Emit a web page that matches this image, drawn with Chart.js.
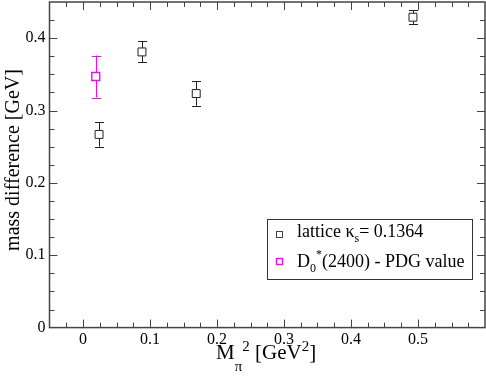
<!DOCTYPE html>
<html>
<head>
<meta charset="utf-8">
<style>
html,body{margin:0;padding:0;background:#fff;}
#wrap{width:486px;height:382px;position:relative;}
</style>
<script src="https://cdn.jsdelivr.net/npm/chart.js@4/dist/chart.umd.min.js"></script>
</head>
<body>
<div id="wrap"><canvas id="c" width="486" height="382"></canvas></div>
<script>
// ---- data ----
const latticeX = [0.024, 0.088, 0.169, 0.4925];
const latticeY = [0.267, 0.381, 0.3235, 0.429];
const latticeErr = [0.017, 0.0145, 0.017, 0.010];
const pdgX = [0.019];
const pdgY = [0.347];
const pdgErr = [0.029];
const xTickLabels = ['0', '0.1', '0.2', '0.3', '0.4', '0.5'];
const yTickLabels = ['0', '0.1', '0.2', '0.3', '0.4'];

const SERIF = "'Liberation Serif', 'DejaVu Serif', serif";
const BLACK = '#222';
const MAGENTA = '#ff00ff';

function isLabel(v, labels) {
  for (const l of labels) { if (Math.abs(parseFloat(l) - v) < 1e-6) return l; }
  return '';
}

function drawRich(ctx, segs, x, y) {
  let cx = x;
  for (const s of segs) {
    ctx.font = s.size + 'px ' + SERIF;
    ctx.fillText(s.t, cx, y + (s.dy || 0));
    cx += ctx.measureText(s.t).width + (s.gap || 0);
  }
}

const errorBars = {
  id: 'errorBars',
  beforeDatasetsDraw(chart) {
    const ctx = chart.ctx, xs = chart.scales.x, ys = chart.scales.y;
    const sets = [[latticeX, latticeY, latticeErr, BLACK], [pdgX, pdgY, pdgErr, MAGENTA]];
    ctx.save();
    ctx.lineWidth = 1;
    for (const [X, Y, E, col] of sets) {
      ctx.strokeStyle = col;
      for (let i = 0; i < X.length; i++) {
        const px = Math.round(xs.getPixelForValue(X[i])) + 0.5;
        const t = ys.getPixelForValue(Y[i] + E[i]);
        const b = ys.getPixelForValue(Y[i] - E[i]);
        ctx.beginPath();
        ctx.moveTo(px, t); ctx.lineTo(px, b);
        ctx.moveTo(px - 4.5, Math.round(t) + 0.5); ctx.lineTo(px + 4.5, Math.round(t) + 0.5);
        ctx.moveTo(px - 4.5, Math.round(b) + 0.5); ctx.lineTo(px + 4.5, Math.round(b) + 0.5);
        ctx.stroke();
      }
    }
    ctx.restore();
  }
};

const frameAndExtras = {
  id: 'frameAndExtras',
  afterDraw(chart) {
    const ctx = chart.ctx, a = chart.chartArea, xs = chart.scales.x, ys = chart.scales.y;
    ctx.save();
    // frame
    ctx.strokeStyle = '#444';
    ctx.lineWidth = 1.5;
    ctx.strokeRect(a.left, a.top, a.right - a.left, a.bottom - a.top);
    // inward ticks on all sides
    ctx.lineWidth = 1;
    ctx.beginPath();
    for (const t of xs.ticks) {
      const px = Math.round(xs.getPixelForValue(t.value)) + 0.5;
      if (px <= a.left + 1 || px >= a.right - 1) continue;
      const len = Math.abs(t.value * 10 - Math.round(t.value * 10)) < 1e-6 ? 8 : 5;
      ctx.moveTo(px, a.bottom); ctx.lineTo(px, a.bottom - len);
      ctx.moveTo(px, a.top); ctx.lineTo(px, a.top + len);
    }
    for (const t of ys.ticks) {
      const py = Math.round(ys.getPixelForValue(t.value)) + 0.5;
      if (py <= a.top + 1 || py >= a.bottom - 1) continue;
      const len = Math.abs(t.value * 10 - Math.round(t.value * 10)) < 1e-6 ? 8 : 5;
      ctx.moveTo(a.left, py); ctx.lineTo(a.left + len, py);
      ctx.moveTo(a.right, py); ctx.lineTo(a.right - len, py);
    }
    ctx.stroke();

    ctx.fillStyle = '#000';
    ctx.textBaseline = 'alphabetic';
    ctx.textAlign = 'left';
    // x-axis title
    drawRich(ctx, [
      {t: 'M', size: 21},
      {t: '\u03c0', size: 15, dy: 12},
      {t: '2', size: 15, dy: -8},
      {t: ' [GeV', size: 21},
      {t: '2', size: 15, dy: -8},
      {t: ']', size: 21}
    ], 216, 359);
    // y-axis title
    ctx.save();
    ctx.translate(19, 160);
    ctx.rotate(-Math.PI / 2);
    ctx.textAlign = 'center';
    ctx.font = '20px ' + SERIF;
    ctx.fillText('mass difference [GeV]', 0, 0);
    ctx.restore();

    // legend box
    const lx = a.left + 217.5, ly = a.top + 217, lw = 205, lh = 60;
    ctx.fillStyle = '#fff';
    ctx.fillRect(lx, ly, lw, lh);
    ctx.strokeStyle = '#333';
    ctx.lineWidth = 1;
    ctx.strokeRect(Math.round(lx) + 0.5, Math.round(ly) + 0.5, lw, lh);
    // markers
    ctx.lineWidth = 1;
    ctx.strokeStyle = '#444';
    ctx.strokeRect(Math.round(lx + 9) + 0.5, Math.round(ly + 12) + 0.5, 6, 6);
    ctx.strokeStyle = MAGENTA;
    ctx.lineWidth = 1.4;
    ctx.strokeRect(Math.round(lx + 9) + 0.5, Math.round(ly + 39) + 0.5, 6, 6);
    ctx.fillStyle = '#000';
    drawRich(ctx, [
      {t: 'lattice \u03ba', size: 18},
      {t: 's', size: 12, dy: 5},
      {t: '= 0.1364', size: 18}
    ], lx + 30, ly + 18);
    drawRich(ctx, [
      {t: 'D', size: 18},
      {t: '0', size: 12, dy: 5},
      {t: '*', size: 12, dy: -9},
      {t: '(2400) - PDG value', size: 18}
    ], lx + 30, ly + 48);
    ctx.restore();
  }
};

new Chart(document.getElementById('c'), {
  type: 'scatter',
  data: {
    datasets: [
      {
        label: 'lattice',
        data: latticeX.map((x, i) => ({x: x, y: latticeY[i]})),
        pointStyle: 'rect',
        pointRadius: 5.6,
        pointBorderWidth: 1,
        borderColor: BLACK,
        backgroundColor: '#fff',
        pointBackgroundColor: '#fff'
      },
      {
        label: 'PDG',
        data: pdgX.map((x, i) => ({x: x, y: pdgY[i]})),
        pointStyle: 'rect',
        pointRadius: 5.6,
        pointBorderWidth: 1.4,
        borderColor: MAGENTA,
        backgroundColor: '#fff',
        pointBackgroundColor: '#fff'
      }
    ]
  },
  options: {
    responsive: false,
    animation: false,
    events: [],
    layout: {autoPadding: false, padding: {top: 2, right: 1, left: 0, bottom: 0}},
    plugins: {legend: {display: false}, tooltip: {enabled: false}},
    scales: {
      x: {
        type: 'linear',
        min: -0.05, max: 0.6,
        grid: {display: false, drawTicks: false},
        border: {display: false},
        afterFit(s) { s.height = 54.4; s.paddingLeft = 0; s.paddingRight = 0; },
        ticks: {
          stepSize: 0.025,
          autoSkip: false,
          maxRotation: 0,
          padding: 3,
          color: '#000',
          font: {family: SERIF, size: 16},
          callback: (v) => isLabel(v, xTickLabels)
        }
      },
      y: {
        type: 'linear',
        min: 0, max: 0.45,
        grid: {display: false, drawTicks: false},
        border: {display: false},
        afterFit(s) { s.width = 49.5; s.paddingTop = 0; s.paddingBottom = 0; },
        ticks: {
          stepSize: 0.025,
          autoSkip: false,
          padding: 4,
          color: '#000',
          font: {family: SERIF, size: 16},
          callback: (v) => isLabel(v, yTickLabels)
        }
      }
    }
  },
  plugins: [errorBars, frameAndExtras]
});
</script>
</body>
</html>
